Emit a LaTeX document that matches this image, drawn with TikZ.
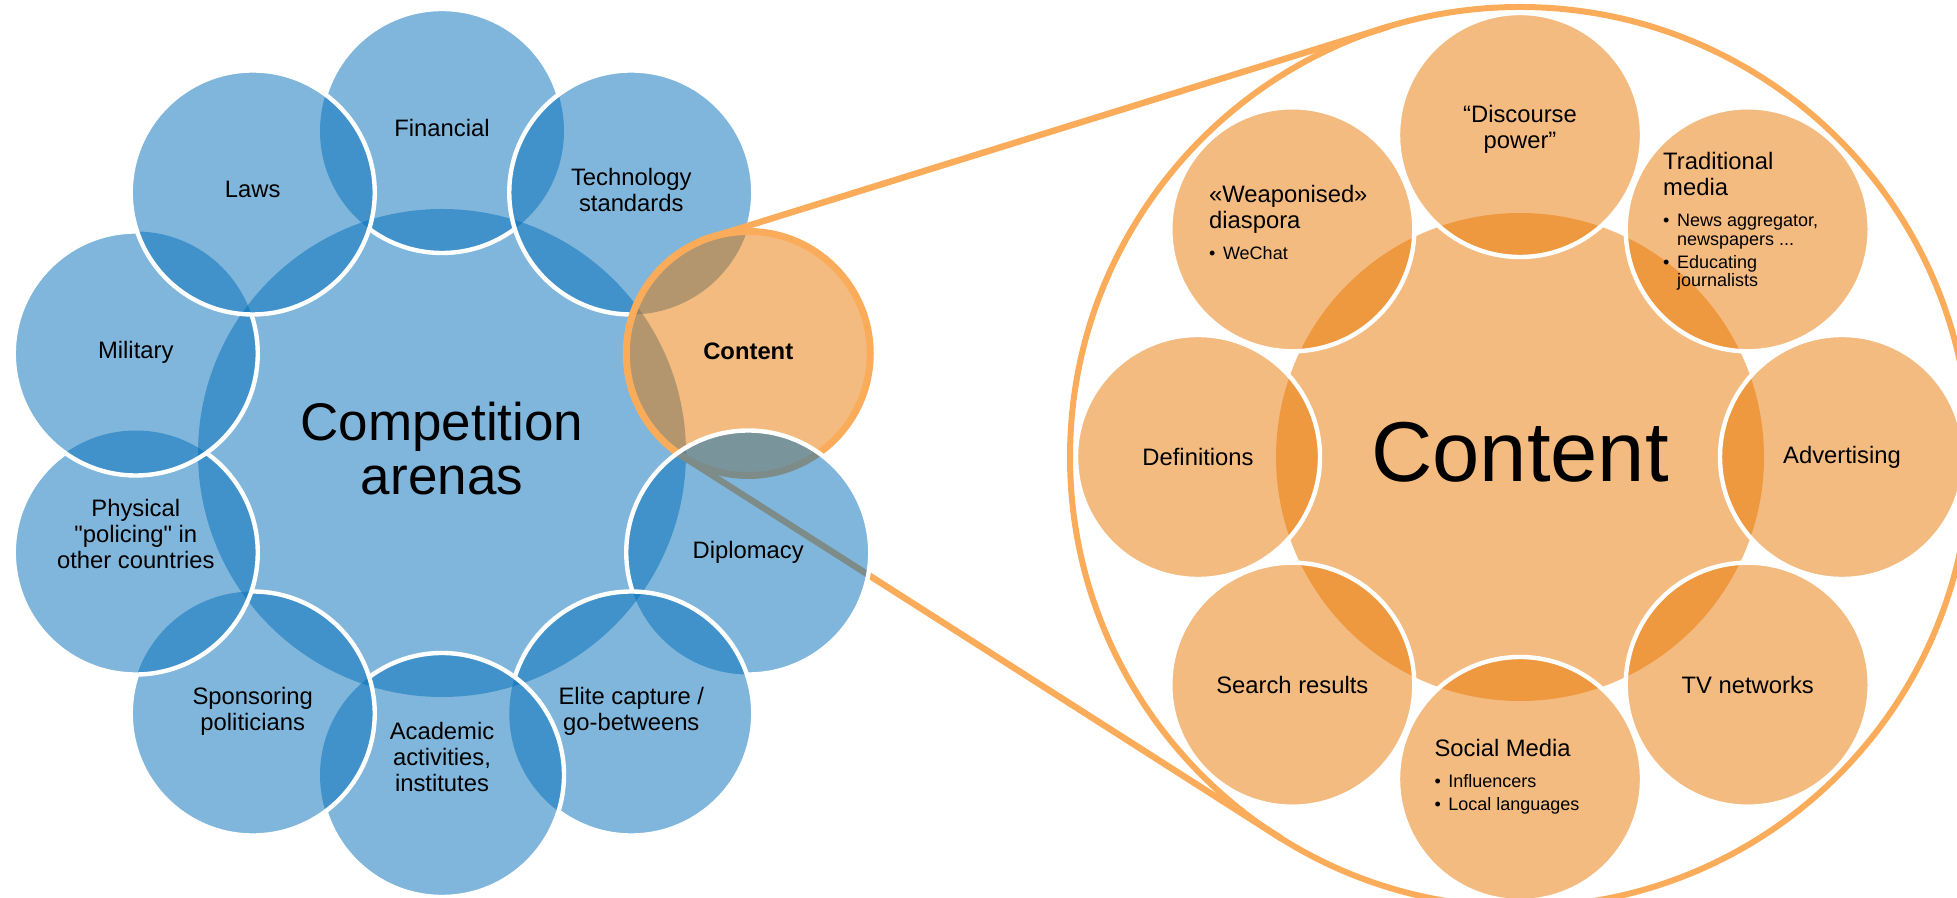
\documentclass[tikz,border=0pt]{standalone}
\usepackage{fontspec}
\setmainfont{Liberation Sans}[Ligatures=TeXOff]

\definecolor{arenablue}{RGB}{2,110,184}
\definecolor{topicorange}{RGB}{233,119,1}
\definecolor{lensorange}{RGB}{250,172,90}

\newcommand{\listfont}{\fontsize{9}{9.2}\selectfont}
\newcommand{\itemdot}{•\hspace{3.8pt}}

% white rim of the ring circle at angle #1, left out below the circles drawn later (angles #2)
\newcommand{\arenarim}[2]{%
  \begin{scope}[even odd rule]
    \clip (-3000,-3000) rectangle (3000,3000)
      \foreach \x in {#2} {(\x:322) circle[radius=122]};
    \draw[rim] (#1:322) circle[radius=122];
  \end{scope}}

\tikzset{
  hub/.style={circle, inner sep=0pt, outer sep=0pt, minimum size=244pt, fill opacity=.5},
  arena/.style={circle, inner sep=0pt, outer sep=0pt, minimum size=122pt, fill=arenablue, fill opacity=.5},
  topic/.style={circle, inner sep=0pt, outer sep=0pt, minimum size=122pt, fill=topicorange, fill opacity=.5, draw=white, line width=2.2pt},
  rim/.style={draw=white, line width=2.2pt},
  lens/.style={circle, inner sep=0pt, outer sep=0pt, minimum size=450pt, draw=lensorange, line width=3pt},
  lensline/.style={draw=lensorange, line width=3.2pt},
  tag/.style={inner sep=0pt, align=center, font=\fontsize{11.9}{13}\selectfont},
}

\begin{document}
\begin{tikzpicture}[x=0.5pt, y=0.5pt]
\useasboundingbox (0,0) rectangle (1957,898);

% close-up frame
\node[lens] (closeup) at (1520,441) {};

% left: ring of arenas, drawn clockwise from the top
\begin{scope}[shift={(442,445)}]
  \node[hub, fill=arenablue] (arenas) at (0,0) {};
  \node[arena] (fin) at (90:322) {};
  \arenarim{90}{54,126}
  \node[arena] (tech) at (54:322) {};
  \arenarim{54}{18}
  \node[arena, fill=topicorange, draw=lensorange, line width=3.5pt] (content) at (18:322) {};
  \draw[lensline, shorten <=-6pt] (content.107) -- (closeup.107);
  \draw[lensline] (content.238) -- (closeup.238);
  \node[arena] (dipl) at (-18:322) {};
  \arenarim{-18}{-54}
  \node[arena] (elite) at (-54:322) {};
  \arenarim{-54}{-90}
  \node[arena] (acad) at (-90:322) {};
  \arenarim{-90}{-126}
  \node[arena] (spons) at (-126:322) {};
  \arenarim{-126}{-162}
  \node[arena] (phys) at (-162:322) {};
  \arenarim{-162}{162}
  \node[arena] (mil) at (162:322) {};
  \arenarim{162}{126}
  \node[arena] (laws) at (126:322) {};
  \draw[rim] (laws.center) circle[radius=122];
\end{scope}

\node[tag, font=\fontsize{26.5}{27}\selectfont, yshift=2.4pt] (arenas-t) at (arenas) {Competition\\arenas};
\node[tag, yshift=1.5pt] (fin-t) at (fin) {Financial};
\node[tag, yshift=1pt] (tech-t) at (tech) {Technology\\standards};
\node[tag, yshift=1pt] (content-t) at (content) {\textbf{Content}};
\node[tag] (dipl-t) at (dipl) {Diplomacy};
\node[tag, yshift=1pt] (elite-t) at (elite) {Elite capture /\\go-betweens};
\node[tag, yshift=9pt] (acad-t) at (acad) {Academic\\activities,\\institutes};
\node[tag, yshift=1pt] (spons-t) at (spons) {Sponsoring\\politicians};
\node[tag, yshift=9.5pt] (phys-t) at (phys) {Physical\\"policing" in\\other countries};
\node[tag, yshift=.5pt] (mil-t) at (mil) {Military};
\node[tag, yshift=1.3pt] (laws-t) at (laws) {Laws};

% right: what the content arena is made of
\begin{scope}[shift={(1520,441)}]
  \node[hub, fill=topicorange] (topics) at (0,0) {};
  \node[topic] (disc) at (90:322) {};
  \node[topic] (trad) at (45:322) {};
  \node[topic] (adv) at (0:322) {};
  \node[topic] (tv) at (-45:322) {};
  \node[topic] (social) at (-90:322) {};
  \node[topic] (search) at (-135:322) {};
  \node[topic] (defn) at (180:322) {};
  \node[topic] (weap) at (135:322) {};
\end{scope}

\node[font=\fontsize{42.5}{44}\selectfont, inner sep=0pt, yshift=2.5pt] (topics-t) at (topics) {Content};
\node[tag, yshift=3pt] (disc-t) at (disc) {“Discourse\\power”};
\node[tag, align=left, xshift=-3.5pt, yshift=4pt] (trad-t) at (trad)
  {Traditional\\media\\[2.5pt]
   {\listfont\itemdot News aggregator,}\\[-3.8pt]
   {\listfont\hphantom{\itemdot}newspapers ...}\\[-1.5pt]
   {\listfont\itemdot Educating}\\[-3.8pt]
   {\listfont\hphantom{\itemdot}journalists}};
\node[tag] (adv-t) at (adv) {Advertising};
\node[tag] (tv-t) at (tv) {TV networks};
\node[tag, align=left, xshift=-6.5pt, yshift=1pt] (social-t) at (social)
  {Social Media\\[2.5pt]
   {\listfont\itemdot Influencers}\\[-1.5pt]
   {\listfont\itemdot Local languages}};
\node[tag] (search-t) at (search) {Search results};
\node[tag] (defn-t) at (defn) {Definitions};
\node[tag, align=left, xshift=-2pt, yshift=3.5pt] (weap-t) at (weap)
  {«Weaponised»\\diaspora\\[2.5pt]
   {\listfont\itemdot WeChat}};
\end{tikzpicture}
\end{document}
